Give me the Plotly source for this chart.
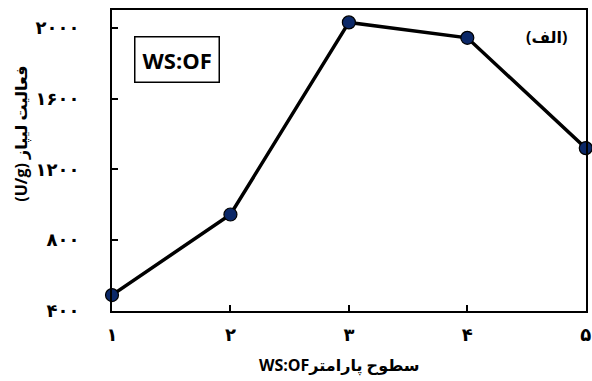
import plotly.graph_objects as go

# WS:OF parameter levels and measured lipase activity (U/g)
levels = [1, 2, 3, 4, 5]
level_labels = ["۱", "۲", "۳", "۴", "۵"]
activity = [490, 945, 2030, 1943, 1320]
y_ticks = [400, 800, 1200, 1600, 2000]
y_tick_labels = ["۴۰۰", "۸۰۰", "۱۲۰۰", "۱۶۰۰", "۲۰۰۰"]

x_title = "WS:OFسطوح پارامتر"
y_title = "(U/g) فعالیت لیپاز"

FONT = "Open Sans, DejaVu Sans, sans-serif"

fig = go.Figure(
    go.Scatter(
        x=levels,
        y=activity,
        mode="lines+markers",
        line=dict(color="black", width=3.5),
        marker=dict(size=13, color="#0b2868", line=dict(color="black", width=1.2)),
        cliponaxis=False,
        showlegend=False,
    )
)

axis_common = dict(
    ticks="inside",
    ticklen=6,
    tickwidth=2,
    tickcolor="black",
    showline=True,
    linecolor="black",
    linewidth=2,
    mirror=True,
    showgrid=False,
    zeroline=False,
    tickfont=dict(size=18, family=FONT, weight="bold"),
)

fig.update_layout(
    width=592,
    height=381,
    margin=dict(l=112, r=1, t=10, b=70),
    paper_bgcolor="white",
    plot_bgcolor="white",
    font=dict(family=FONT, color="black"),
    xaxis=dict(
        range=[1, 5.002],
        tickvals=levels,
        ticktext=level_labels,
        ticklabelstandoff=6,
        ticklabeloverflow="allow",
        **axis_common,
    ),
    yaxis=dict(
        range=[400, 2100],
        tickvals=y_ticks,
        ticktext=y_tick_labels,
        ticklabelstandoff=27,
        **axis_common,
    ),
    annotations=[
        dict(
            text=x_title,
            xref="paper", yref="paper",
            x=0.48, y=-0.18,
            xanchor="center", yanchor="middle",
            showarrow=False,
            font=dict(size=16, family=FONT, weight="bold"),
        ),
        dict(
            text=y_title,
            xref="paper", yref="paper",
            x=-0.192, y=0.589,
            xanchor="center", yanchor="middle",
            textangle=-90,
            showarrow=False,
            font=dict(size=16, family=FONT, weight="bold"),
        ),
        dict(
            text="WS:OF",
            xref="paper", yref="paper",
            x=0.137, y=0.836,
            xanchor="center", yanchor="middle",
            showarrow=False,
            bordercolor="black", borderwidth=1.5, borderpad=7,
            bgcolor="white",
            font=dict(size=22, family=FONT, weight="bold"),
        ),
        dict(
            text="(الف)",
            xref="paper", yref="paper",
            x=0.917, y=0.91,
            xanchor="center", yanchor="middle",
            showarrow=False,
            font=dict(size=16, family=FONT, weight="bold"),
        ),
    ],
)

fig.write_html("out.html")
